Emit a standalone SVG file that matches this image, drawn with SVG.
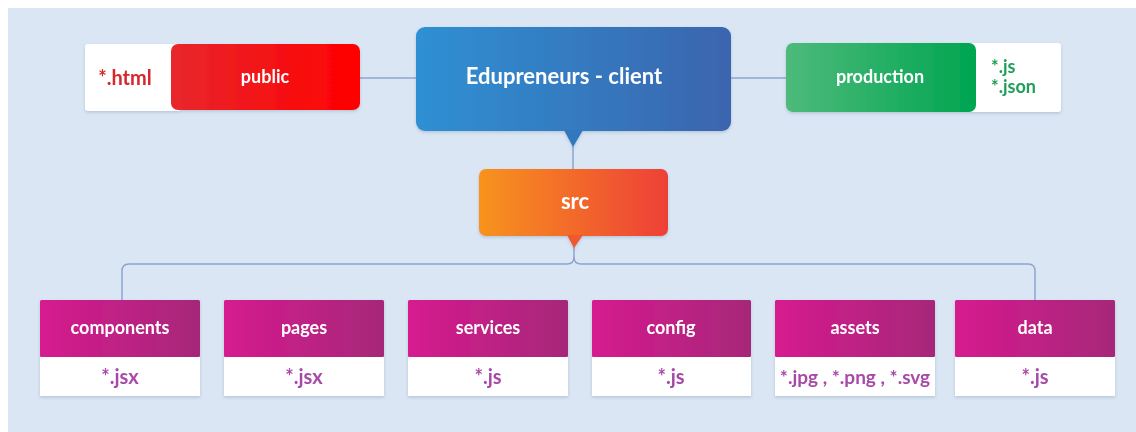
<svg xmlns="http://www.w3.org/2000/svg" width="1136" height="432" viewBox="0 0 1136 432">
  <defs>
    <linearGradient id="gRed" x1="0" y1="0" x2="1" y2="0">
      <stop offset="0" stop-color="#e8272d"/>
      <stop offset="1" stop-color="#ff0000"/>
    </linearGradient>
    <linearGradient id="gBlue" x1="0" y1="0" x2="1" y2="0">
      <stop offset="0" stop-color="#2e90d3"/>
      <stop offset="1" stop-color="#3b65ae"/>
    </linearGradient>
    <linearGradient id="gGreen" x1="0" y1="0" x2="1" y2="0">
      <stop offset="0" stop-color="#4dba7b"/>
      <stop offset="1" stop-color="#00a550"/>
    </linearGradient>
    <linearGradient id="gOrange" x1="0" y1="0" x2="1" y2="0">
      <stop offset="0" stop-color="#f7931e"/>
      <stop offset="1" stop-color="#ee4037"/>
    </linearGradient>
    <linearGradient id="gMagenta" x1="0" y1="0" x2="1" y2="0">
      <stop offset="0" stop-color="#d61a8f"/>
      <stop offset="1" stop-color="#a62879"/>
    </linearGradient>
    <filter id="shadow" x="-10%" y="-10%" width="120%" height="130%">
      <feDropShadow dx="0" dy="1.5" stdDeviation="1.5" flood-color="#4a5a80" flood-opacity="0.25"/>
    </filter>
  </defs>
  <style>
    text { font-family: Lato, "Open Sans", "Liberation Sans", sans-serif; font-weight: 700; }
    .title { fill: #ffffff; font-size: 22px; text-anchor: middle; }
    .head { fill: #ffffff; font-size: 18px; text-anchor: middle; }
    .big { font-size: 22px; }
    .ext { fill: #a84aa8; font-size: 20px; text-anchor: middle; }
    .ext.small { font-size: 19px; }
    .prod { fill: #1f9f57; font-size: 18px; }
    .card { fill: #ffffff; }
    .wire { fill: none; stroke: #8ea4cf; stroke-width: 1.5; }
  </style>

  <!-- page backdrop -->
  <rect x="0" y="0" width="1136" height="432" fill="#ffffff"/>
  <rect x="8" y="8" width="1128" height="424" fill="#dae6f4"/>

  <!-- connectors -->
  <g id="connectors">
    <line class="wire" x1="360" y1="78" x2="416" y2="78"/>
    <line class="wire" x1="731" y1="78" x2="786" y2="78"/>
    <line class="wire" x1="573" y1="146" x2="573" y2="170"/>
    <path class="wire" d="M122,300 V271 Q122,264 129,264 H567 Q574,264 574,257 V246"/>
    <path class="wire" d="M574,257 Q574,264 581,264 H1028 Q1035,264 1035,271 V300"/>
  </g>

  <!-- root -->
  <g id="node-root" filter="url(#shadow)">
    <rect x="416" y="27" width="315" height="104" rx="9" fill="url(#gBlue)"/>
    <polygon points="564,130 583,130 573,147" fill="#3078bf"/>
    <text class="title" x="564" y="84">Edupreneurs - client</text>
  </g>

  <!-- public -->
  <g id="node-public" filter="url(#shadow)">
    <rect class="card" x="85" y="44" width="96" height="67" rx="3"/>
    <text x="125" y="85" font-size="20" fill="#d7262d" text-anchor="middle">*.html</text>
    <rect x="171" y="44" width="189" height="66" rx="7" fill="url(#gRed)"/>
    <text class="head" x="265" y="83">public</text>
  </g>

  <!-- production -->
  <g id="node-production" filter="url(#shadow)">
    <rect class="card" x="966" y="43" width="95" height="69" rx="3"/>
    <rect x="786" y="43" width="190" height="69" rx="7" fill="url(#gGreen)"/>
    <text class="head" x="880" y="83">production</text>
    <text class="prod" x="991" y="73">*.js</text>
    <text class="prod" x="991" y="93">*.json</text>
  </g>

  <!-- src -->
  <g id="node-src" filter="url(#shadow)">
    <rect x="479" y="169" width="189" height="67" rx="7" fill="url(#gOrange)"/>
    <polygon points="567,235 583,235 574,248" fill="#f0592e"/>
    <text class="head big" x="575" y="209">src</text>
  </g>

  <!-- source folders -->
  <g id="node-components" filter="url(#shadow)">
    <rect class="card" x="40" y="357" width="160" height="39"/>
    <rect x="40" y="300" width="160" height="57" rx="1.5" fill="url(#gMagenta)"/>
    <text class="head" x="120" y="334">components</text>
    <text class="ext" x="120" y="384">*.jsx</text>
  </g>
  <g id="node-pages" filter="url(#shadow)">
    <rect class="card" x="224" y="357" width="160" height="39"/>
    <rect x="224" y="300" width="160" height="57" rx="1.5" fill="url(#gMagenta)"/>
    <text class="head" x="304" y="334">pages</text>
    <text class="ext" x="304" y="384">*.jsx</text>
  </g>
  <g id="node-services" filter="url(#shadow)">
    <rect class="card" x="408" y="357" width="160" height="39"/>
    <rect x="408" y="300" width="160" height="57" rx="1.5" fill="url(#gMagenta)"/>
    <text class="head" x="488" y="334">services</text>
    <text class="ext" x="488" y="384">*.js</text>
  </g>
  <g id="node-config" filter="url(#shadow)">
    <rect class="card" x="592" y="357" width="159" height="39"/>
    <rect x="592" y="300" width="159" height="57" rx="1.5" fill="url(#gMagenta)"/>
    <text class="head" x="671" y="334">config</text>
    <text class="ext" x="671" y="384">*.js</text>
  </g>
  <g id="node-assets" filter="url(#shadow)">
    <rect class="card" x="775" y="357" width="160" height="39"/>
    <rect x="775" y="300" width="160" height="57" rx="1.5" fill="url(#gMagenta)"/>
    <text class="head" x="855" y="334">assets</text>
    <text class="ext small" x="855" y="384">*.jpg , *.png , *.svg</text>
  </g>
  <g id="node-data" filter="url(#shadow)">
    <rect class="card" x="955" y="357" width="160" height="39"/>
    <rect x="955" y="300" width="160" height="57" rx="1.5" fill="url(#gMagenta)"/>
    <text class="head" x="1035" y="334">data</text>
    <text class="ext" x="1035" y="384">*.js</text>
  </g>
</svg>
